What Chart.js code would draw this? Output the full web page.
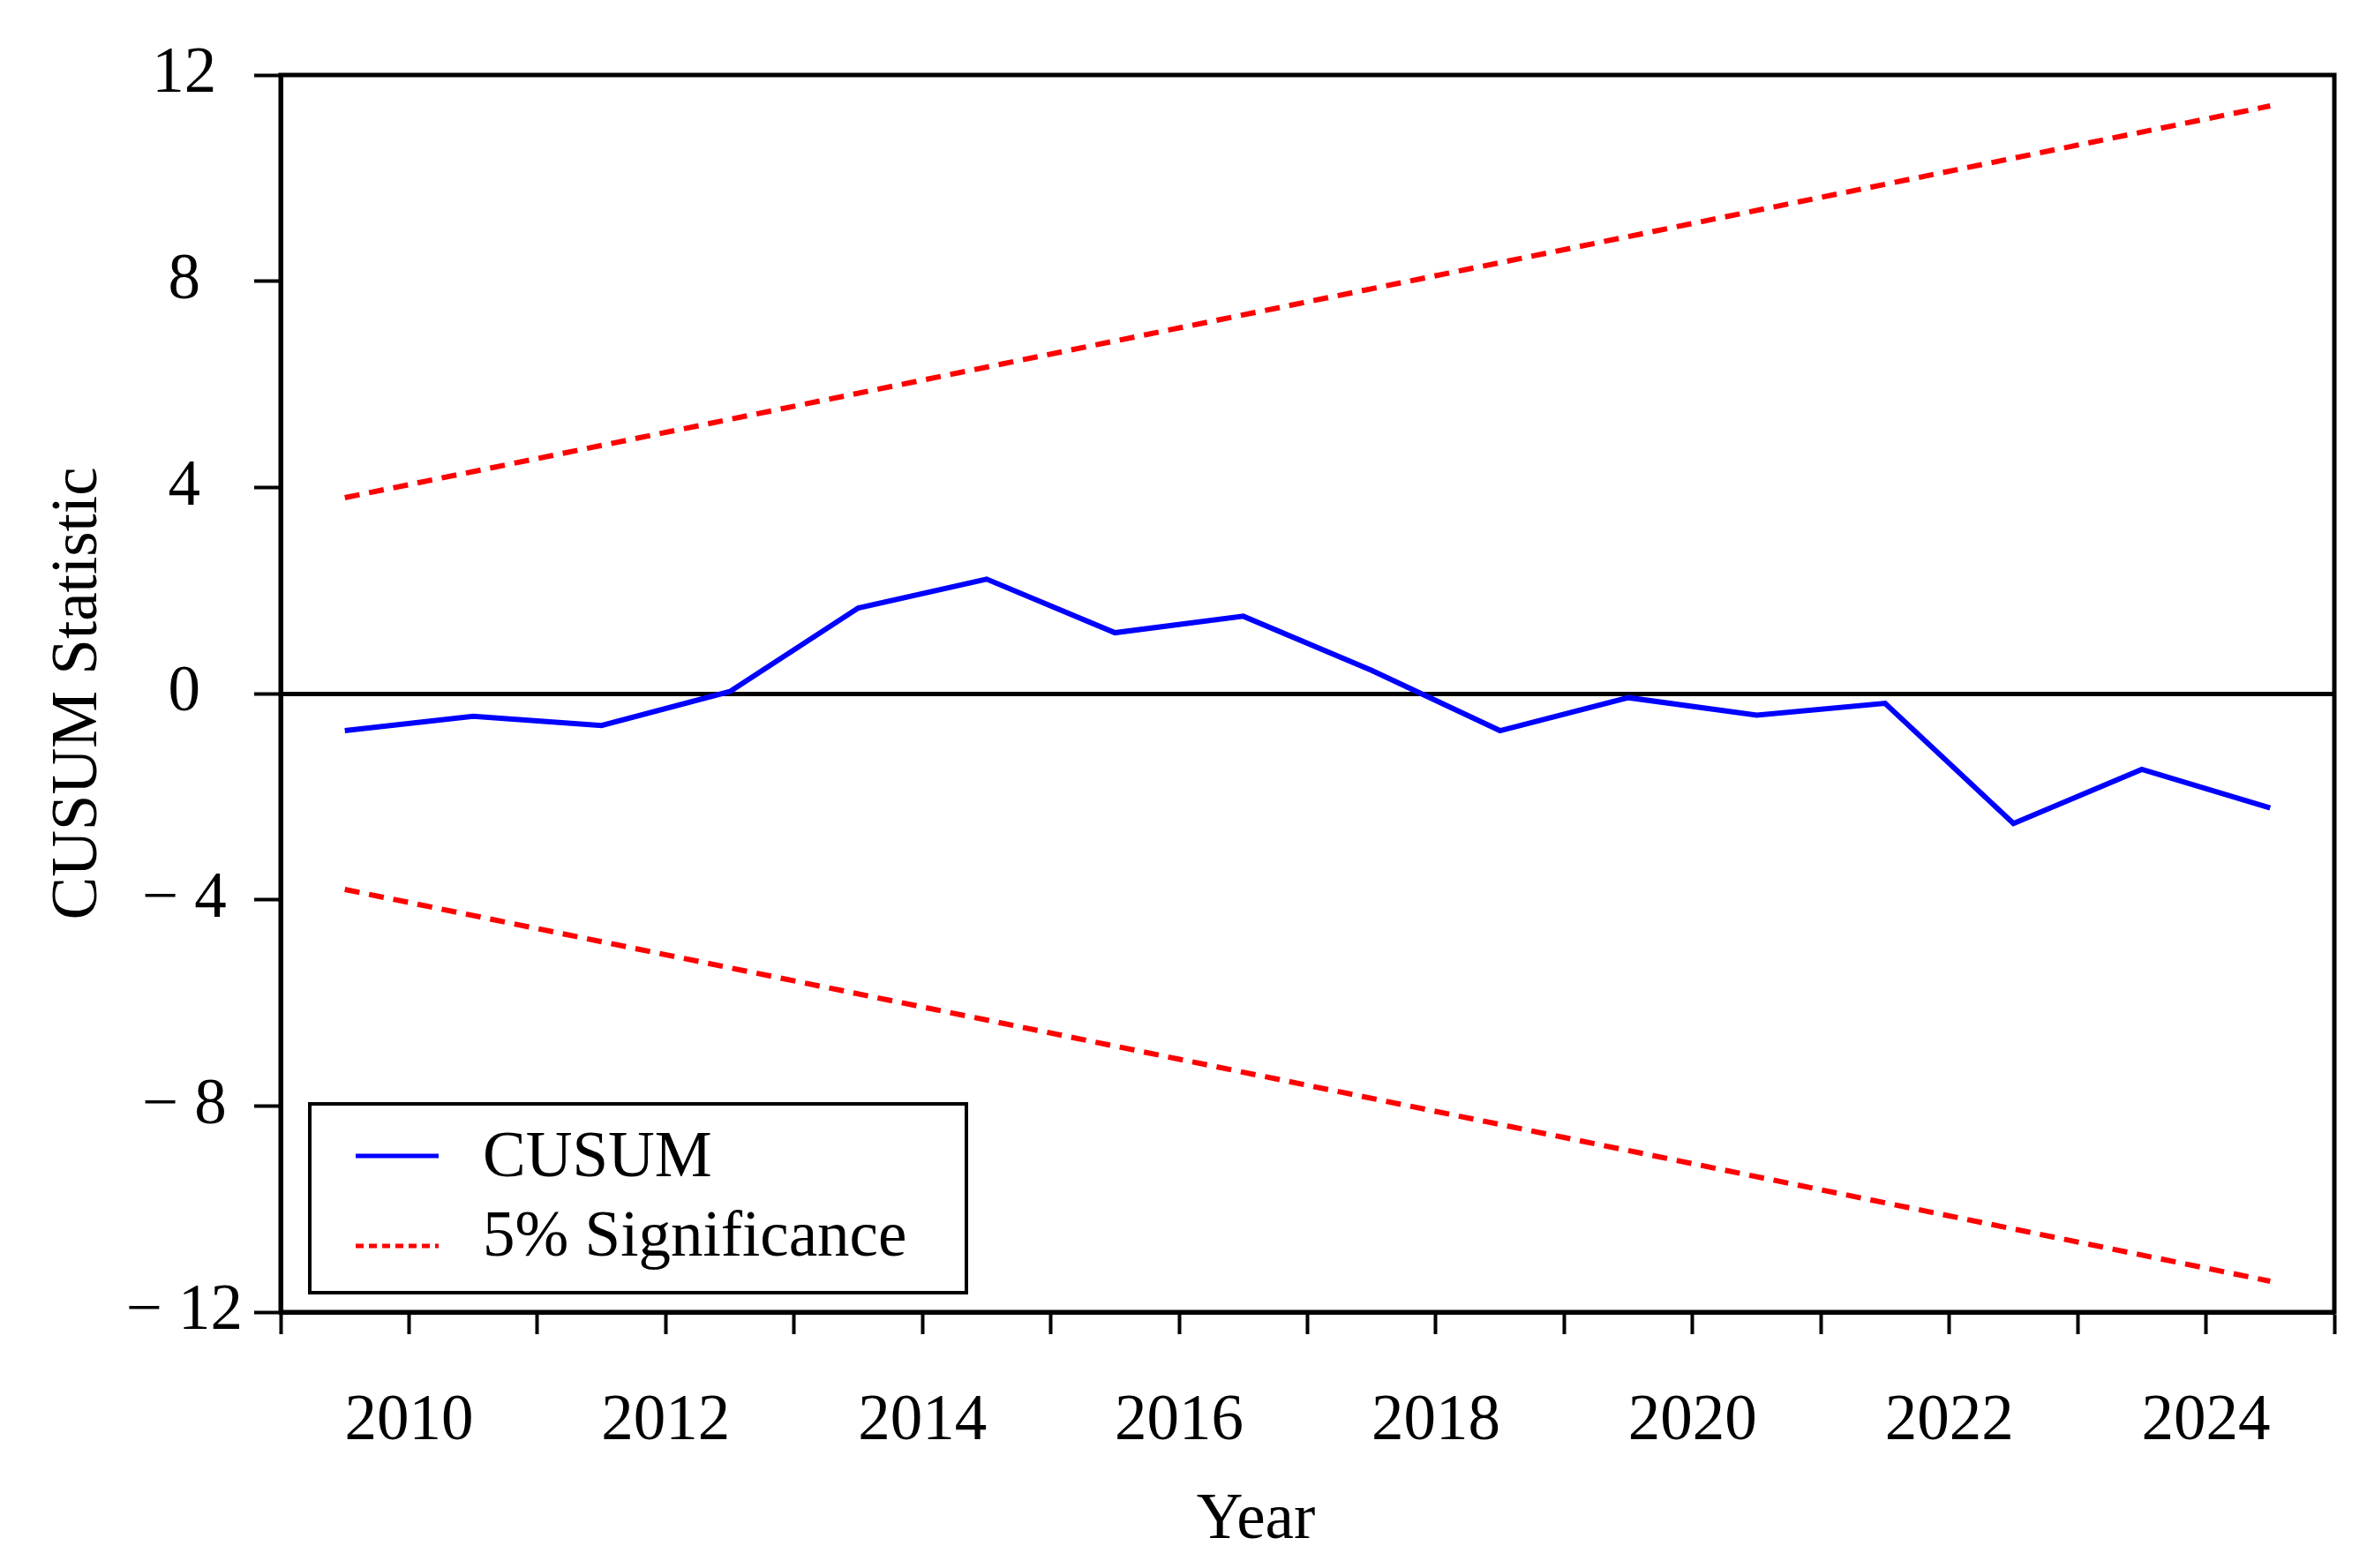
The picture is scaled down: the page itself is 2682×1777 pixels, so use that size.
<!DOCTYPE html>
<html>
<head>
<meta charset="utf-8">
<script src="https://cdn.jsdelivr.net/npm/chart.js@4.4.1/dist/chart.umd.min.js"></script>
<style>
    html, body { margin: 0; padding: 0; background: #fff; }
    #wrap { width: 2682px; height: 1777px; }
</style>
</head>
<body>
<div id="wrap"><canvas id="chart-cusum" width="2682" height="1777"></canvas></div>
<script>
// Datos (CUSUM anual)
const years = [2009.5, 2010.5, 2011.5, 2012.5, 2013.5, 2014.5, 2015.5, 2016.5,
               2017.5, 2018.5, 2019.5, 2020.5, 2021.5, 2022.5, 2023.5, 2024.5];
const cusum = [-0.72, -0.44, -0.62, 0.04, 1.66, 2.22, 1.18, 1.50,
               0.45, -0.72, -0.08, -0.42, -0.19, -2.52, -1.47, -2.22];

// Bandas al 5%
const boundYears = [2009.5, 2024.5];
const upper5 = [3.8, 11.4];
const lower5 = [-3.8, -11.4];

// Ejes
const xLabelYears = [2010, 2012, 2014, 2016, 2018, 2020, 2022, 2024];
const yTicks = [-12, -8, -4, 0, 4, 8, 12];

const FONT = "'Liberation Serif', 'Times New Roman', serif";
const BLUE = '#0000ff';
const RED = '#ff0000';

function toPoints(xs, ys) {
    return xs.map((x, i) => ({ x: x, y: ys[i] }));
}

// Marco completo del área
const framePlugin = {
    id: 'frame',
    afterDraw(chart) {
        const { ctx, chartArea: a } = chart;
        ctx.save();
        ctx.strokeStyle = '#000';
        ctx.lineWidth = 5;
        ctx.strokeRect(a.left, a.top, a.right - a.left, a.bottom - a.top);
        ctx.restore();
    }
};

// Título del eje X (algo a la izquierda del centro, como en el original)
const xTitlePlugin = {
    id: 'xTitle',
    afterDraw(chart) {
        const ctx = chart.ctx;
        ctx.save();
        ctx.fillStyle = '#000';
        ctx.font = '73px ' + FONT;
        ctx.textAlign = 'center';
        ctx.textBaseline = 'middle';
        ctx.fillText('Year', 1423, 1724);
        ctx.restore();
    }
};

// Leyenda dentro del gráfico
const legendPlugin = {
    id: 'insideLegend',
    afterDraw(chart) {
        const ctx = chart.ctx;
        ctx.save();
        ctx.fillStyle = '#fff';
        ctx.fillRect(351, 1251, 744, 214);
        ctx.strokeStyle = '#000';
        ctx.lineWidth = 4;
        ctx.strokeRect(351, 1251, 744, 214);

        const items = [
            { ds: chart.data.datasets[0], y: 1310, base: 1333, dash: [] },
            { ds: chart.data.datasets[1], y: 1412, base: 1423, dash: [9, 6] }
        ];
        items.forEach(it => {
            ctx.beginPath();
            ctx.strokeStyle = it.ds.borderColor;
            ctx.lineWidth = 5;
            ctx.setLineDash(it.dash);
            ctx.moveTo(403, it.y);
            ctx.lineTo(497, it.y);
            ctx.stroke();
            ctx.setLineDash([]);
            ctx.fillStyle = '#000';
            ctx.font = '73px ' + FONT;
            ctx.textBaseline = 'alphabetic';
            ctx.textAlign = 'left';
            ctx.fillText(it.ds.label, 547, it.base);
        });
        ctx.restore();
    }
};

const ctx = document.getElementById('chart-cusum').getContext('2d');
const chart = new Chart(ctx, {
    type: 'line',
    data: {
        datasets: [{
            label: 'CUSUM',
            data: toPoints(years, cusum),
            borderColor: BLUE,
            borderWidth: 6,
            pointRadius: 0,
            tension: 0
        }, {
            label: '5% Significance',
            data: toPoints(boundYears, upper5),
            borderColor: RED,
            borderWidth: 6,
            borderDash: [17, 11],
            pointRadius: 0,
            tension: 0
        }, {
            label: '5% Significance (lower)',
            data: toPoints(boundYears, lower5),
            borderColor: RED,
            borderWidth: 6,
            borderDash: [17, 11],
            pointRadius: 0,
            tension: 0
        }]
    },
    options: {
        responsive: false,
        devicePixelRatio: 1,
        animation: false,
        layout: { padding: { top: 85, right: 37, left: 0, bottom: 0 } },
        plugins: {
            legend: { display: false },
            tooltip: { enabled: false }
        },
        scales: {
            x: {
                type: 'linear',
                min: 2009,
                max: 2025,
                afterFit(scale) {
                    scale.height = 290;
                    scale.paddingLeft = 0;
                    scale.paddingRight = 0;
                },
                border: { display: true, color: '#000', width: 5 },
                grid: {
                    drawOnChartArea: false,
                    drawTicks: true,
                    tickLength: 25,
                    tickWidth: 4,
                    tickColor: '#000'
                },
                ticks: {
                    stepSize: 1,
                    autoSkip: false,
                    maxRotation: 0,
                    padding: 56,
                    color: '#000',
                    font: { family: FONT, size: 73 },
                    callback: v => xLabelYears.includes(v) ? String(v) : ''
                },
                title: { display: false }
            },
            y: {
                min: -12,
                max: 12,
                afterFit(scale) { scale.width = 318; },
                border: { display: true, color: '#000', width: 5 },
                grid: {
                    drawTicks: true,
                    tickLength: 30,
                    tickWidth: 4,
                    tickColor: '#000',
                    lineWidth: 5,
                    color: c => (c.tick && c.tick.value === 0) ? '#000' : 'rgba(0,0,0,0)'
                },
                ticks: {
                    stepSize: 4,
                    autoSkip: false,
                    padding: 13,
                    crossAlign: 'center',
                    color: '#000',
                    font: { family: FONT, size: 73 },
                    callback: v => yTicks.includes(v) ? (v < 0 ? '\u2212 ' + Math.abs(v) : String(v)) : ''
                },
                title: {
                    display: true,
                    text: 'CUSUM Statistic',
                    color: '#000',
                    font: { family: FONT, size: 73, lineHeight: 1.2 },
                    padding: { top: 46, bottom: 0 }
                }
            }
        }
    },
    plugins: [framePlugin, xTitlePlugin, legendPlugin]
});
</script>
</body>
</html>
